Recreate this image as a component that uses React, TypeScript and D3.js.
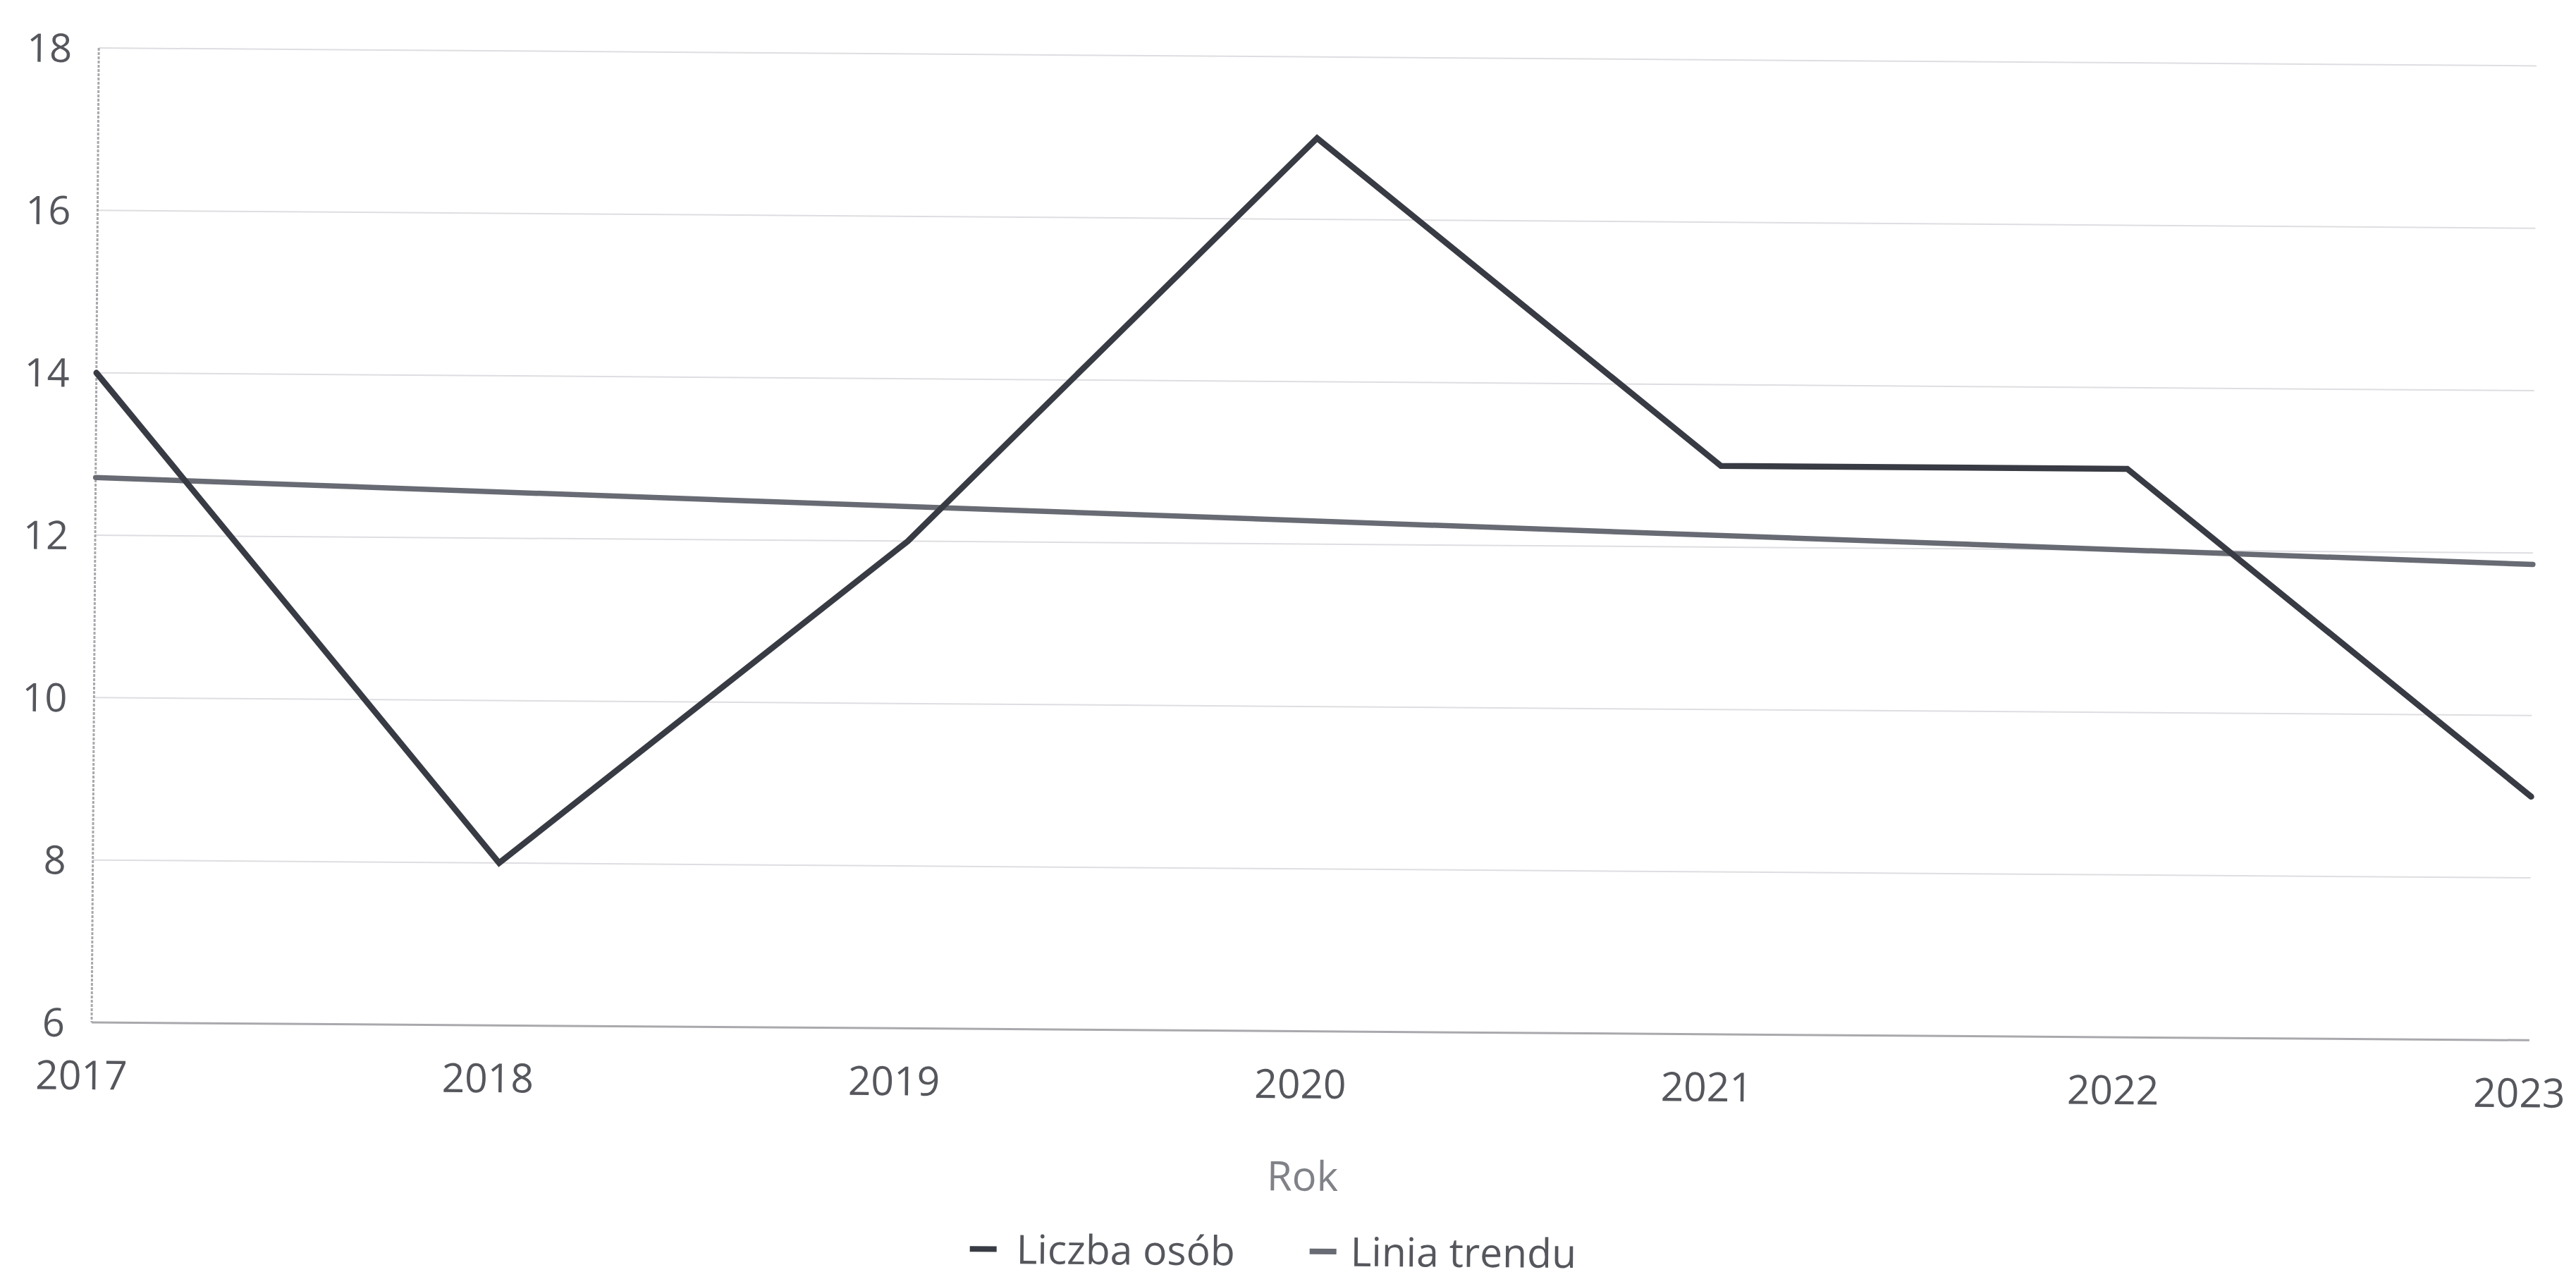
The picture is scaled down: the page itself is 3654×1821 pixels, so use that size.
import React from "react";
import * as d3 from "d3";

const years = ["2017", "2018", "2019", "2020", "2021", "2022", "2023"];
const liczbaOsob = [14, 8, 12, 17, 13, 13, 9];
const trendYears = ["2017", "2023"];
const trendValues = [12.71, 11.86];
const yTicks = [6, 8, 10, 12, 14, 16, 18];
const seriesNames = ["Liczba osób", "Linia trendu"];
const xTitle = "Rok";

const W = 3654;
const H = 1821;
const M = { left: 130, right: 3588, top: 68, bottom: 1450 };
const FONT = "'Open Sans', 'Noto Sans', sans-serif";
const MAIN = "#383b43";
const TREND = "#686b73";

export default function App() {
  const x = d3.scalePoint<string>().domain(years).range([M.left, M.right]);
  const y = d3.scaleLinear().domain([6, 18]).range([M.bottom, M.top]);

  const line = d3
    .line<[string, number]>()
    .x((d) => x(d[0]) as number)
    .y((d) => y(d[1]));

  const mainPath = line(years.map((yr, i) => [yr, liczbaOsob[i]] as [string, number])) || "";
  const trendPath = line(trendYears.map((yr, i) => [yr, trendValues[i]] as [string, number])) || "";

  return (
    <div style={{ position: "fixed", left: 0, top: 0 }}>
      <svg width={W} height={H} style={{ display: "block", background: "#fff" }}>
        <g transform={`rotate(0.42, ${M.left}, ${M.bottom})`}>
          {/* grid lines */}
          {yTicks.map((t) => (
            <line
              key={"g" + t}
              x1={M.left}
              x2={M.right}
              y1={y(t)}
              y2={y(t)}
              stroke={t === 6 ? "#a9a9ad" : "#dedee2"}
              strokeWidth={t === 6 ? 3 : 2}
            />
          ))}
          {/* left axis */}
          <line x1={M.left} x2={M.left} y1={M.top} y2={M.bottom} stroke="#a9a9ad" strokeWidth={3} strokeDasharray="4 2" />
          {/* y labels */}
          {yTicks.map((t) => (
            <text
              key={"yl" + t}
              x={92}
              y={y(t)}
              dy="0.36em"
              textAnchor="end"
              fontFamily={FONT}
              fontSize={56}
              fill="#55575d"
            >
              {t}
            </text>
          ))}
          {/* x labels */}
          {years.map((yr) => (
            <text
              key={"xl" + yr}
              x={(x(yr) as number) - 14}
              y={M.bottom + 95}
              textAnchor="middle"
              fontFamily={FONT}
              fontSize={57}
              fill="#55575d"
            >
              {yr}
            </text>
          ))}
          {/* axis title */}
          <text
            x={(M.left + M.right) / 2 - 10}
            y={M.bottom + 226}
            textAnchor="middle"
            fontFamily={FONT}
            fontSize={58}
            fill="#808288"
          >
            {xTitle}
          </text>
          {/* lines */}
          <path d={trendPath} fill="none" stroke={TREND} strokeWidth={7.5} strokeLinecap="round" />
          <path d={mainPath} fill="none" stroke={MAIN} strokeWidth={8.5} strokeLinejoin="miter" strokeLinecap="round" />
          {/* legend */}
          <g transform={`translate(1378, ${M.bottom + 312})`}>
            <line x1={0} x2={38} y1={0} y2={0} stroke={MAIN} strokeWidth={8} />
            <text x={66} y={0} dy="0.36em" fontFamily={FONT} fontSize={57} fill="#55575d">
              {seriesNames[0]}
            </text>
            <line x1={482} x2={520} y1={0} y2={0} stroke={TREND} strokeWidth={8} />
            <text x={540} y={0} dy="0.36em" fontFamily={FONT} fontSize={57} fill="#55575d">
              {seriesNames[1]}
            </text>
          </g>
        </g>
      </svg>
    </div>
  );
}
